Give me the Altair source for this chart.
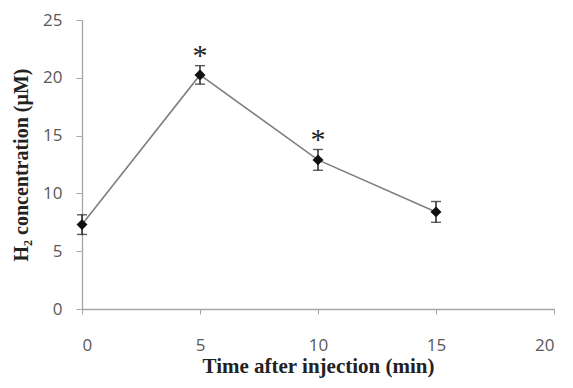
import altair as alt
import pandas as pd

times = [0, 5, 10, 15]
conc = [7.3, 20.25, 12.9, 8.4]
err = [0.85, 0.8, 0.9, 0.9]
star_times = [5, 10]
star_y = [21.9, 14.6]

df = pd.DataFrame({"t": times, "c": conc, "lo": [c - e for c, e in zip(conc, err)],
                   "hi": [c + e for c, e in zip(conc, err)]})
stars = pd.DataFrame({"t": star_times, "y": star_y, "s": ["*", "*"]})

x = alt.X("t:Q", scale=alt.Scale(domain=[0, 20], nice=False),
          axis=alt.Axis(values=[0, 5, 10, 15, 20], title="Time after injection (min)", grid=False,
                        tickSize=5, labelPadding=23, titlePadding=2, labelFontSize=17))
y = alt.Y("c:Q", scale=alt.Scale(domain=[0, 25], nice=False),
          axis=alt.Axis(values=[0, 5, 10, 15, 20, 25], title="H₂ concentration (µM)", grid=False,
                        tickSize=6, labelPadding=14, titlePadding=11, labelFontSize=17,
                        titleFontSize=20))

base = alt.Chart(df)
line = base.mark_line(color="#7f7f7f", strokeWidth=1.6).encode(x=x, y=y)
rule = base.mark_rule(color="#1a1a1a", strokeWidth=1.4).encode(x="t:Q", y="lo:Q", y2="hi:Q")
cap_lo = base.mark_tick(color="#1a1a1a", orient="horizontal", size=10, thickness=1.4).encode(x="t:Q", y="lo:Q")
cap_hi = base.mark_tick(color="#1a1a1a", orient="horizontal", size=10, thickness=1.4).encode(x="t:Q", y="hi:Q")
pts = base.mark_point(shape="diamond", filled=True, color="#111111", size=120, opacity=1).encode(x="t:Q", y="c:Q")
st = alt.Chart(stars).mark_text(font="Liberation Serif", fontSize=30, color="#222222", baseline="middle").encode(
    x="t:Q", y="y:Q", text="s:N")

chart = alt.layer(line, rule, cap_lo, cap_hi, pts, st).properties(
    width=472, height=289,
    autosize=alt.AutoSizeParams(type="none"),
    padding={"left": 74, "top": 12, "right": 11, "bottom": 71},
).configure_view(stroke=None).configure_axis(
    domainColor="#a6a6a6", tickColor="#a6a6a6", domainWidth=1.3,
    labelFont="Open Sans", labelColor="#595959",
    titleFont="Liberation Serif", titleFontSize=21, titleFontWeight="bold", titleColor="#222222",
)

chart.save("out.html", embed_options={"renderer": "svg", "actions": False})
